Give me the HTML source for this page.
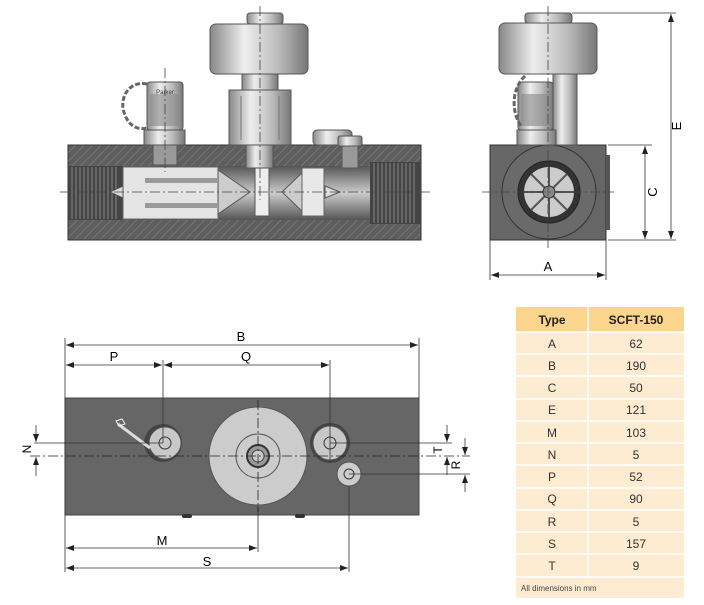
<!DOCTYPE html>
<html><head><meta charset="utf-8"><style>
html,body{margin:0;padding:0;background:#fff;width:704px;height:605px;overflow:hidden}
svg{display:block}
text{font-family:"Liberation Sans",sans-serif}
</style></head><body>
<svg width="704" height="605" viewBox="0 0 704 605" xmlns="http://www.w3.org/2000/svg">
<defs>
<pattern id="h" width="6" height="6" patternUnits="userSpaceOnUse" patternTransform="rotate(45)">
<rect width="6" height="6" fill="#5e5e5e"/><line x1="0" y1="0" x2="0" y2="6" stroke="#8a8a8a" stroke-width="1"/>
</pattern>
<linearGradient id="cyl" x1="0" x2="1"><stop offset="0" stop-color="#888"/><stop offset="0.35" stop-color="#eee"/><stop offset="0.7" stop-color="#bbb"/><stop offset="1" stop-color="#777"/></linearGradient>
<linearGradient id="bore" y1="0" y2="1" x1="0" x2="0"><stop offset="0" stop-color="#555"/><stop offset="0.5" stop-color="#ccc"/><stop offset="1" stop-color="#555"/></linearGradient>
<marker id="a" markerWidth="8" markerHeight="6" refX="8" refY="3" orient="auto-start-reverse" markerUnits="userSpaceOnUse"><path d="M0,0 L8,3 L0,6 z" fill="#222"/></marker>
</defs>

<!-- TOP LEFT SECTION VIEW -->
<rect x="68" y="145" width="353" height="95" fill="url(#h)" stroke="#333"/>
<rect x="68" y="166" width="353" height="54" fill="url(#bore)"/>
<rect x="68" y="166" width="55" height="54" fill="#444"/>
<g stroke="#888" stroke-width="1">
<line x1="72" y1="167" x2="72" y2="219"/><line x1="76" y1="167" x2="76" y2="219"/><line x1="80" y1="167" x2="80" y2="219"/><line x1="84" y1="167" x2="84" y2="219"/><line x1="88" y1="167" x2="88" y2="219"/><line x1="92" y1="167" x2="92" y2="219"/><line x1="96" y1="167" x2="96" y2="219"/><line x1="100" y1="167" x2="100" y2="219"/><line x1="104" y1="167" x2="104" y2="219"/><line x1="108" y1="167" x2="108" y2="219"/><line x1="112" y1="167" x2="112" y2="219"/><line x1="116" y1="167" x2="116" y2="219"/>
</g>
<rect x="370" y="162" width="51" height="62" fill="#444"/>
<g stroke="#888" stroke-width="1">
<line x1="374" y1="163" x2="374" y2="223"/><line x1="378" y1="163" x2="378" y2="223"/><line x1="382" y1="163" x2="382" y2="223"/><line x1="386" y1="163" x2="386" y2="223"/><line x1="390" y1="163" x2="390" y2="223"/><line x1="394" y1="163" x2="394" y2="223"/><line x1="398" y1="163" x2="398" y2="223"/><line x1="402" y1="163" x2="402" y2="223"/><line x1="406" y1="163" x2="406" y2="223"/><line x1="410" y1="163" x2="410" y2="223"/><line x1="414" y1="163" x2="414" y2="223"/>
</g>
<rect x="123" y="167" width="95" height="52" fill="#e4e4e4" stroke="#666"/>
<rect x="145" y="178" width="72" height="5" fill="#999"/><rect x="145" y="203" width="72" height="5" fill="#999"/>
<polygon points="110,192 123,186 123,198" fill="#ddd" stroke="#555"/>
<polygon points="218,170 250,192 218,214" fill="#ccc" stroke="#555"/>
<polygon points="282,192 305,170 305,214" fill="#ccc" stroke="#555"/>
<rect x="255" y="168" width="14" height="48" fill="#eee" stroke="#555"/>
<rect x="302" y="168" width="22" height="48" fill="#e8e8e8" stroke="#666"/>
<polygon points="325,186 340,192 325,198" fill="#ddd" stroke="#555"/>
<!-- valve -->
<rect x="247" y="13" width="36" height="11" rx="3" fill="url(#cyl)" stroke="#555"/>
<rect x="210" y="24" width="98" height="50" rx="6" fill="url(#cyl)" stroke="#555"/>
<rect x="242" y="74" width="36" height="16" fill="url(#cyl)" stroke="#555"/>
<rect x="229" y="90" width="62" height="55" fill="url(#cyl)" stroke="#555"/>
<line x1="241" y1="96" x2="241" y2="140" stroke="#777"/><line x1="279" y1="96" x2="279" y2="140" stroke="#777"/>
<rect x="246" y="145" width="27" height="23" fill="url(#cyl)" stroke="#555"/>
<!-- coupling -->
<rect x="147" y="82" width="36" height="48" rx="3" fill="url(#cyl)" stroke="#555"/>
<rect x="150" y="94" width="30" height="32" fill="#888" opacity="0.6"/>
<text x="165" y="94" font-size="6" text-anchor="middle" fill="#333">Parker</text>
<rect x="144" y="130" width="41" height="15" fill="url(#cyl)" stroke="#555"/>
<rect x="153" y="145" width="24" height="20" fill="#999" stroke="#555"/>
<path d="M147,84 C128,80 118,100 125,115 C130,128 140,130 147,128" fill="none" stroke="#666" stroke-width="3" stroke-dasharray="5,2"/>
<rect x="313" y="130" width="39" height="15" rx="4" fill="url(#cyl)" stroke="#555"/>
<rect x="338" y="136" width="24" height="10" rx="2" fill="url(#cyl)" stroke="#555"/>
<rect x="342" y="146" width="16" height="22" fill="#999" stroke="#555"/>
<g stroke="#444" stroke-dasharray="10,3,2,3" stroke-width="0.8">
<line x1="60" y1="192" x2="432" y2="192"/><line x1="260" y1="6" x2="260" y2="200"/><line x1="165" y1="68" x2="165" y2="172"/>
</g>

<!-- TOP RIGHT SIDE VIEW -->
<rect x="490" y="145" width="116" height="95" fill="#666" stroke="#333"/>
<rect x="606" y="155" width="4" height="75" fill="#555"/>
<circle cx="549" cy="192" r="47" fill="#6a6a6a" stroke="#333"/>
<circle cx="549" cy="192" r="31" fill="#333" stroke="#222"/>
<circle cx="549" cy="192" r="25" fill="#ccc"/>
<g stroke="#555" stroke-width="2"><line x1="524" y1="192" x2="574" y2="192"/><line x1="549" y1="167" x2="549" y2="217"/><line x1="531" y1="174" x2="567" y2="210"/><line x1="531" y1="210" x2="567" y2="174"/></g>
<circle cx="549" cy="192" r="6" fill="#888" stroke="#333"/>
<rect x="525" y="13" width="47" height="10" rx="3" fill="url(#cyl)" stroke="#555"/>
<rect x="499" y="23" width="98" height="51" rx="6" fill="url(#cyl)" stroke="#555"/>
<rect x="553" y="74" width="24" height="71" fill="url(#cyl)" stroke="#555"/>
<rect x="518" y="82" width="35" height="48" rx="3" fill="url(#cyl)" stroke="#555"/>
<rect x="521" y="94" width="30" height="32" fill="#888" opacity="0.6"/>
<rect x="517" y="130" width="39" height="15" fill="url(#cyl)" stroke="#555"/>
<path d="M525,76 C510,90 512,115 522,127" fill="none" stroke="#666" stroke-width="3" stroke-dasharray="5,2"/>
<g stroke="#444" stroke-dasharray="10,3,2,3" stroke-width="0.8"><line x1="548" y1="6" x2="548" y2="248"/><line x1="482" y1="192" x2="614" y2="192"/></g>
<g stroke="#333" stroke-width="0.8" fill="none">
<line x1="572" y1="13" x2="676" y2="13"/><line x1="608" y1="240" x2="676" y2="240"/><line x1="608" y1="145" x2="652" y2="145"/>
<line x1="671" y1="14" x2="671" y2="239" marker-start="url(#a)" marker-end="url(#a)"/>
<line x1="645" y1="146" x2="645" y2="239" marker-start="url(#a)" marker-end="url(#a)"/>
<line x1="490" y1="240" x2="490" y2="280"/><line x1="606" y1="240" x2="606" y2="280"/>
<line x1="491" y1="275" x2="605" y2="275" marker-start="url(#a)" marker-end="url(#a)"/>
</g>
<text x="681" y="126" font-size="13" transform="rotate(-90 681 126)" text-anchor="middle">E</text>
<text x="657" y="192" font-size="13" transform="rotate(-90 657 192)" text-anchor="middle">C</text>
<text x="548" y="271" font-size="13" text-anchor="middle">A</text>

<!-- BOTTOM VIEW -->
<rect x="65" y="398" width="354" height="117" fill="#666" stroke="#444"/>
<rect x="182" y="514" width="10" height="4" rx="2" fill="#333"/><rect x="295" y="514" width="10" height="4" rx="2" fill="#333"/>
<circle cx="258" cy="456" r="49" fill="#ccc" stroke="#555"/>
<circle cx="258" cy="456" r="22" fill="none" stroke="#555"/>
<circle cx="258" cy="456" r="11" fill="#999" stroke="#333" stroke-width="2"/>
<circle cx="258" cy="456" r="6" fill="#ccc" stroke="#444"/>
<circle cx="163" cy="443" r="19" fill="#444"/>
<circle cx="165" cy="443" r="16" fill="#c8c8c8" stroke="#555"/>
<circle cx="165" cy="443" r="6" fill="none" stroke="#333"/>
<path d="M118,424 L150,448" stroke="#ddd" stroke-width="3"/><path d="M116,421 l6,-2 l3,5 l-6,2z" fill="none" stroke="#eee"/>
<circle cx="330" cy="443" r="20" fill="#444"/>
<circle cx="330" cy="443" r="17" fill="#c8c8c8" stroke="#555"/>
<circle cx="330" cy="443" r="6" fill="none" stroke="#333"/>
<circle cx="349" cy="474" r="12" fill="#ccc" stroke="#555"/>
<circle cx="349" cy="474" r="5" fill="none" stroke="#333"/>
<g stroke="#333" stroke-width="0.8" fill="none">
<line x1="65" y1="338" x2="65" y2="572"/><line x1="419" y1="338" x2="419" y2="398"/>
<line x1="66" y1="345" x2="418" y2="345" marker-start="url(#a)" marker-end="url(#a)"/>
<line x1="163" y1="360" x2="163" y2="443"/><line x1="330" y1="360" x2="330" y2="463"/>
<line x1="66" y1="365" x2="162" y2="365" marker-start="url(#a)" marker-end="url(#a)"/>
<line x1="164" y1="365" x2="329" y2="365" marker-start="url(#a)" marker-end="url(#a)"/>
<line x1="258" y1="506" x2="258" y2="552"/><line x1="349" y1="486" x2="349" y2="572"/>
<line x1="66" y1="548" x2="257" y2="548" marker-start="url(#a)" marker-end="url(#a)"/>
<line x1="66" y1="568" x2="348" y2="568" marker-start="url(#a)" marker-end="url(#a)"/>
<line x1="34" y1="443" x2="163" y2="443"/><line x1="330" y1="443" x2="452" y2="443"/>
<line x1="349" y1="474" x2="470" y2="474"/>
<line x1="36" y1="425" x2="36" y2="442" marker-end="url(#a)"/><line x1="36" y1="476" x2="36" y2="457" marker-end="url(#a)"/>
<line x1="447" y1="425" x2="447" y2="442" marker-end="url(#a)"/><line x1="447" y1="475" x2="447" y2="457" marker-end="url(#a)"/>
<line x1="465" y1="438" x2="465" y2="455" marker-end="url(#a)"/><line x1="465" y1="492" x2="465" y2="475" marker-end="url(#a)"/>
</g>
<g stroke="#222" stroke-dasharray="10,3,2,3" stroke-width="0.8">
<line x1="30" y1="456" x2="470" y2="456"/><line x1="258" y1="400" x2="258" y2="512"/>
</g>
<text x="241" y="341" font-size="13" text-anchor="middle">B</text>
<text x="114" y="361" font-size="13" text-anchor="middle">P</text>
<text x="246" y="361" font-size="13" text-anchor="middle">Q</text>
<text x="162" y="545" font-size="13" text-anchor="middle">M</text>
<text x="207" y="566" font-size="13" text-anchor="middle">S</text>
<text x="31" y="449" font-size="12" transform="rotate(-90 31 449)" text-anchor="middle">N</text>
<text x="442" y="450" font-size="12" transform="rotate(-90 442 450)" text-anchor="middle">T</text>
<text x="460" y="465" font-size="12" transform="rotate(-90 460 465)" text-anchor="middle">R</text>

<!-- TABLE -->
<rect x="516" y="307" width="168" height="291" fill="#fdebd2"/>
<rect x="516" y="307" width="168" height="25" fill="#fbd48e"/>
<g stroke="#fff" stroke-width="1.5">
<line x1="516" y1="332" x2="684" y2="332"/><line x1="516" y1="354" x2="684" y2="354"/><line x1="516" y1="376" x2="684" y2="376"/><line x1="516" y1="399" x2="684" y2="399"/><line x1="516" y1="421" x2="684" y2="421"/><line x1="516" y1="443" x2="684" y2="443"/><line x1="516" y1="465" x2="684" y2="465"/><line x1="516" y1="488" x2="684" y2="488"/><line x1="516" y1="510" x2="684" y2="510"/><line x1="516" y1="532" x2="684" y2="532"/><line x1="516" y1="554" x2="684" y2="554"/><line x1="516" y1="577" x2="684" y2="577"/>
<line x1="588" y1="307" x2="588" y2="577"/>
</g>
<g font-size="12" text-anchor="middle" fill="#333">
<text x="552" y="324" font-weight="bold" fill="#222">Type</text><text x="636" y="324" font-weight="bold" fill="#222">SCFT-150</text>
<text x="552" y="348">A</text><text x="636" y="348">62</text>
<text x="552" y="370">B</text><text x="636" y="370">190</text>
<text x="552" y="392">C</text><text x="636" y="392">50</text>
<text x="552" y="414">E</text><text x="636" y="414">121</text>
<text x="552" y="437">M</text><text x="636" y="437">103</text>
<text x="552" y="459">N</text><text x="636" y="459">5</text>
<text x="552" y="481">P</text><text x="636" y="481">52</text>
<text x="552" y="503">Q</text><text x="636" y="503">90</text>
<text x="552" y="526">R</text><text x="636" y="526">5</text>
<text x="552" y="548">S</text><text x="636" y="548">157</text>
<text x="552" y="570">T</text><text x="636" y="570">9</text>
</g>
<text x="521" y="591" font-size="8" fill="#444">All dimensions in mm</text>
</svg>
</body></html>
